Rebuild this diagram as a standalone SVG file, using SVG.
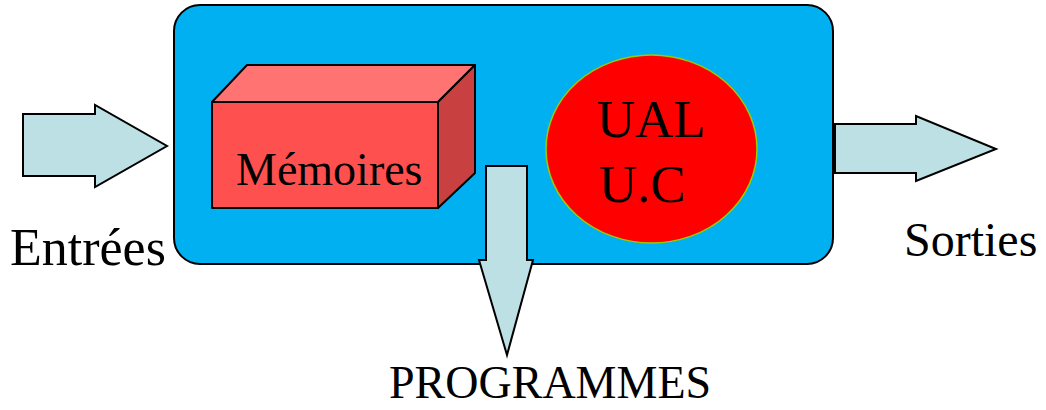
<svg xmlns="http://www.w3.org/2000/svg" width="1046" height="410" viewBox="0 0 1046 410">
<style>
.arrow{fill:#BDE0E4;stroke:#000;stroke-width:2;stroke-linejoin:miter}
.t{font-family:"Liberation Serif","Times New Roman",serif;fill:#000}
.cube{stroke:#000;stroke-width:2;stroke-linejoin:round}
</style>
<rect width="1046" height="410" fill="#fff"/>
<g id="cpu">
<rect x="174" y="5" width="659" height="259" rx="26" ry="26" fill="#00B0F0" stroke="#000" stroke-width="2"/>
</g>
<g id="memoires">
<polygon class="cube" points="212,102 247,65 475,65 438,102" fill="#FF7373"/>
<polygon class="cube" points="438,102 475,65 475,173 438,208" fill="#C94040"/>
<rect class="cube" x="212" y="102" width="226" height="106" fill="#FF5050"/>
<text class="t" x="236" y="185" font-size="46">Mémoires</text>
</g>
<g id="ual">
<ellipse cx="651.5" cy="149" rx="105.5" ry="94" fill="#FF0000" stroke="#99CC00" stroke-width="1.5"/>
<text class="t" x="597" y="137" font-size="53">UAL</text>
<text class="t" x="599" y="202" font-size="53">U.C</text>
</g>
<g id="connectors">
<polygon class="arrow" points="23,114 95,114 95,105 167,146 95,187 95,176 23,176"/>
<polygon class="arrow" points="835,124 916,124 916,116 996,149 916,181 916,173 835,173"/>
<polygon class="arrow" points="486,166 527,166 527,260 533,260 507,355 479,260 486,260"/>
</g>
<g id="labels">
<text class="t" x="10" y="265" font-size="52">Entrées</text>
<text class="t" x="904" y="256" font-size="48">Sorties</text>
<text class="t" x="389" y="398" font-size="46">PROGRAMMES</text>
</g>
</svg>
